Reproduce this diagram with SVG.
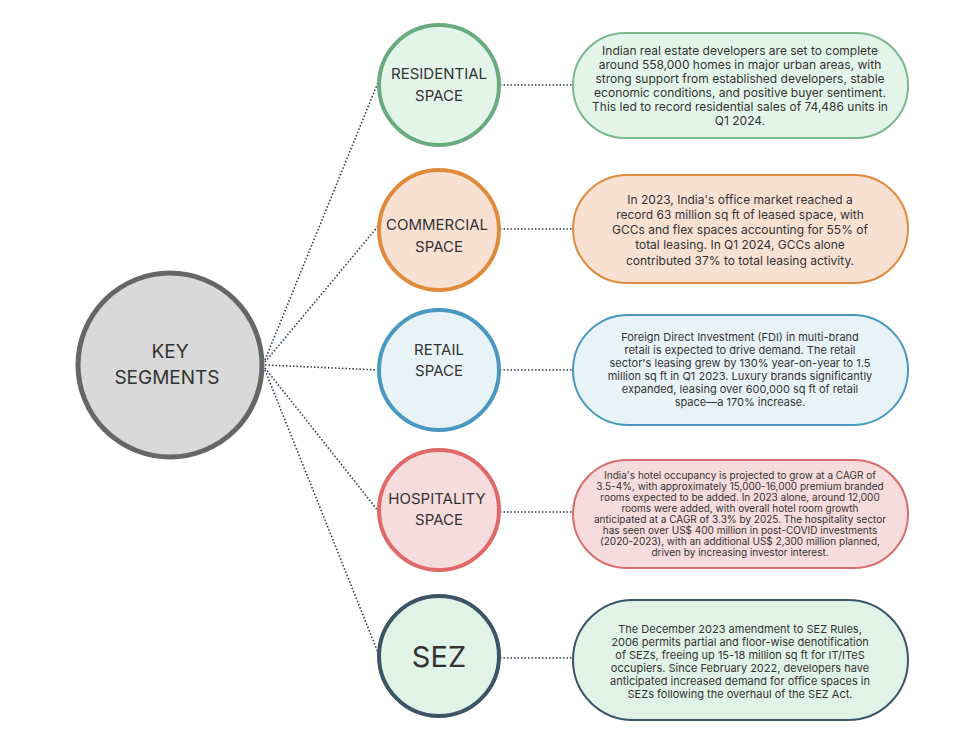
<svg xmlns="http://www.w3.org/2000/svg" width="977" height="735" viewBox="0 0 977 735">
<style>
text{font-family:Inter,"Liberation Sans",sans-serif;fill:#333;text-anchor:middle}
.c{stroke-width:4}
.b{stroke-width:2}
.t{font-size:12px}
.m{font-size:11px}
.s{font-size:10px}
.l{font-size:15px}
.con line{stroke:#2c3e55;stroke-width:1.6;stroke-dasharray:1.5 2}
</style>
<rect width="977" height="735" fill="#fff"/>
<g class="con">
<line x1="265" y1="360" x2="379" y2="80"/>
<line x1="265" y1="362" x2="379" y2="225"/>
<line x1="265" y1="365" x2="379" y2="370"/>
<line x1="265" y1="368" x2="379" y2="512"/>
<line x1="265" y1="370" x2="379" y2="655"/>
<line x1="500" y1="85" x2="573" y2="85"/>
<line x1="500" y1="229" x2="573" y2="229"/>
<line x1="500" y1="370" x2="573" y2="370"/>
<line x1="500" y1="512" x2="573" y2="512"/>
<line x1="500" y1="658" x2="573" y2="658"/>
</g>
<g id="key"><circle cx="170" cy="365" r="92" fill="#d9d9d9" stroke="#666" stroke-width="5"/>
<text x="170" y="358" font-size="19">KEY</text><text x="167" y="384" font-size="19">SEGMENTS</text></g>
<g id="residential"><circle class="c" cx="439" cy="85" r="60" fill="#e3f5e8" stroke="#6aaa7f"/>
<text class="l" x="439" y="79">RESIDENTIAL</text><text class="l" x="439" y="101">SPACE</text></g>
<g id="commercial"><circle class="c" cx="439" cy="230" r="60" fill="#f8e1d3" stroke="#e08a3c"/>
<text class="l" x="437" y="230">COMMERCIAL</text><text class="l" x="439" y="252">SPACE</text></g>
<g id="retail"><circle class="c" cx="439" cy="370" r="60" fill="#e8f3f8" stroke="#4a97c0"/>
<text class="l" x="439" y="355">RETAIL</text><text class="l" x="439" y="376">SPACE</text></g>
<g id="hospitality"><circle class="c" cx="439" cy="510" r="60" fill="#f6dcdc" stroke="#e06868"/>
<text class="l" x="437" y="504">HOSPITALITY</text><text class="l" x="439" y="525">SPACE</text></g>
<g id="sez"><circle class="c" cx="439" cy="656" r="60" fill="#e1f3e6" stroke="#3b5466"/>
<text x="439" y="667" font-size="29">SEZ</text></g>
<g id="residential-info"><rect class="b" x="573" y="33" width="335" height="105" rx="52" fill="#e3f5e8" stroke="#7ab88d"/>
<text class="t" x="740" y="55">Indian real estate developers are set to complete</text>
<text class="t" x="740" y="69">around 558,000 homes in major urban areas, with</text>
<text class="t" x="740" y="83">strong support from established developers, stable</text>
<text class="t" x="740" y="97">economic conditions, and positive buyer sentiment.</text>
<text class="t" x="740" y="111">This led to record residential sales of 74,486 units in</text>
<text class="t" x="740" y="125">Q1 2024.</text></g>
<g id="commercial-info"><rect class="b" x="573" y="175" width="335" height="108" rx="54" fill="#f8e1d3" stroke="#e08a3c"/>
<text class="t" x="740" y="204">In 2023, India's office market reached a</text>
<text class="t" x="740" y="219">record 63 million sq ft of leased space, with</text>
<text class="t" x="740" y="234">GCCs and flex spaces accounting for 55% of</text>
<text class="t" x="740" y="249">total leasing. In Q1 2024, GCCs alone</text>
<text class="t" x="740" y="265">contributed 37% to total leasing activity.</text></g>
<g id="retail-info"><rect class="b" x="573" y="315" width="335" height="110" rx="55" fill="#e8f3f8" stroke="#4a97c0"/>
<text class="m" x="740" y="341">Foreign Direct Investment (FDI) in multi-brand</text>
<text class="m" x="740" y="354">retail is expected to drive demand. The retail</text>
<text class="m" x="740" y="367">sector's leasing grew by 130% year-on-year to 1.5</text>
<text class="m" x="740" y="380">million sq ft in Q1 2023. Luxury brands significantly</text>
<text class="m" x="740" y="393">expanded, leasing over 600,000 sq ft of retail</text>
<text class="m" x="740" y="406">space—a 170% increase.</text></g>
<g id="hospitality-info"><rect class="b" x="573" y="460" width="335" height="108" rx="54" fill="#f6dcdc" stroke="#d86f6f"/>
<text class="s" x="740" y="479">India's hotel occupancy is projected to grow at a CAGR of</text>
<text class="s" x="740" y="490">3.5-4%, with approximately 15,000-16,000 premium branded</text>
<text class="s" x="740" y="501">rooms expected to be added. In 2023 alone, around 12,000</text>
<text class="s" x="740" y="512">rooms were added, with overall hotel room growth</text>
<text class="s" x="740" y="523">anticipated at a CAGR of 3.3% by 2025. The hospitality sector</text>
<text class="s" x="740" y="534">has seen over US$ 400 million in post-COVID investments</text>
<text class="s" x="740" y="545">(2020-2023), with an additional US$ 2,300 million planned,</text>
<text class="s" x="740" y="556">driven by increasing investor interest.</text></g>
<g id="sez-info"><rect class="b" x="573" y="600" width="335" height="120" rx="60" fill="#e1f3e6" stroke="#3b5466"/>
<text class="m" x="740" y="633">The December 2023 amendment to SEZ Rules,</text>
<text class="m" x="740" y="646">2006 permits partial and floor-wise denotification</text>
<text class="m" x="740" y="659">of SEZs, freeing up 15-18 million sq ft for IT/ITeS</text>
<text class="m" x="740" y="672">occupiers. Since February 2022, developers have</text>
<text class="m" x="740" y="685">anticipated increased demand for office spaces in</text>
<text class="m" x="740" y="698">SEZs following the overhaul of the SEZ Act.</text></g>
</svg>
